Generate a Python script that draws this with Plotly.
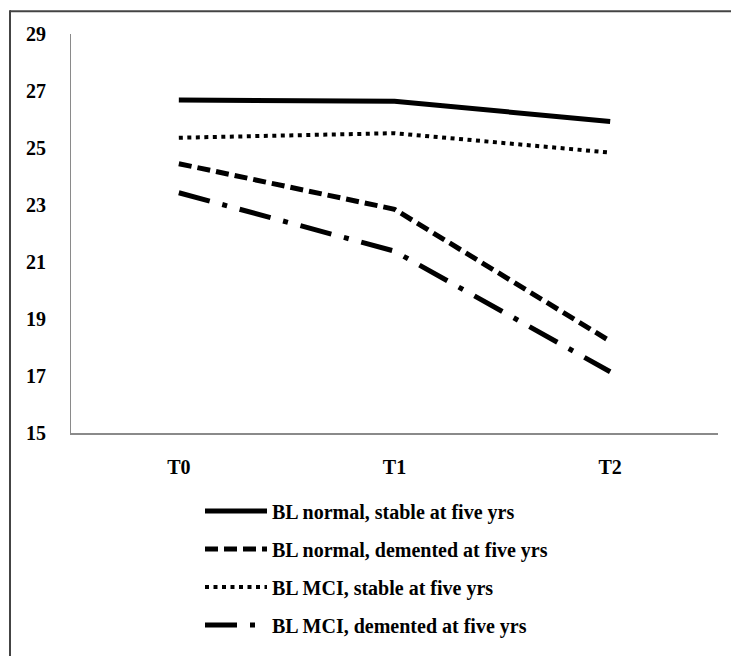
import plotly.graph_objects as go

timepoints = ["T0", "T1", "T2"]
normal_stable = [26.68, 26.64, 25.93]
normal_demented = [24.45, 22.85, 18.22]
mci_stable = [25.36, 25.52, 24.84]
mci_demented = [23.43, 21.38, 17.15]

series_names = [
    "BL normal, stable at five yrs",
    "BL normal, demented at five yrs",
    "BL MCI, stable at five yrs",
    "BL MCI, demented at five yrs",
]
y_ticks = [15, 17, 19, 21, 23, 25, 27, 29]

styles = [
    dict(width=5, dash="solid"),
    dict(width=5, dash="13px,6px"),
    dict(width=4, dash="4px,4.5px"),
    dict(width=5, dash="32px,13px,5px,13px"),
]

fig = go.Figure()
for i, (name, vals) in enumerate(zip(series_names,
                                     [normal_stable, normal_demented, mci_stable, mci_demented])):
    fig.add_trace(go.Scatter(
        x=timepoints, y=vals, mode="lines", name=name,
        legendgroup=f"g{i}",
        line=dict(color="black", width=styles[i]["width"], dash=styles[i]["dash"]),
    ))

FONT = "Liberation Serif"
W, H = 731, 656
L, T = 71, 34
R = W - 718
B = H - 436
pw, ph = W - L - R, H - T - B

def px(xp):
    return (xp - L) / pw

def py(yp):
    return (H - B - yp) / ph

fig.update_layout(
    width=W, height=H,
    margin=dict(l=L, r=R, t=T, b=B),
    paper_bgcolor="white", plot_bgcolor="white",
    font=dict(family=FONT, size=20, color="black"),
    showlegend=True,
    legend=dict(
        x=px(200), y=py(495), xanchor="left", yanchor="top",
        orientation="v", traceorder="grouped",
        tracegroupgap=9, itemwidth=62,
        font=dict(family=FONT, size=20, color="black", weight="bold"),
        bgcolor="rgba(0,0,0,0)",
    ),
    xaxis=dict(
        type="category", range=[-0.5, 2.5],
        showgrid=False, zeroline=False,
        showline=True, linecolor="#8a8a8a", linewidth=2,
        ticks="", ticklabelstandoff=15,
        tickfont=dict(family=FONT, size=20, color="black", weight="bold"),
    ),
    yaxis=dict(
        range=[15, 29], tickvals=y_ticks,
        showgrid=False, zeroline=False,
        showline=True, linecolor="#8a8a8a", linewidth=1,
        ticks="", ticklabelstandoff=20,
        tickfont=dict(family=FONT, size=20, color="black", weight="bold"),
    ),
    shapes=[
        dict(type="line", xref="paper", yref="paper",
             x0=px(10), x1=px(760), y0=py(11), y1=py(11),
             line=dict(color="#444444", width=2)),
        dict(type="line", xref="paper", yref="paper",
             x0=px(10), x1=px(10), y0=py(10), y1=py(700),
             line=dict(color="#444444", width=2)),
    ],
)

fig.write_html(
    "out.html",
    config={"displayModeBar": False},
    post_script="document.body.style.margin='0';document.body.style.overflow='hidden';",
)
